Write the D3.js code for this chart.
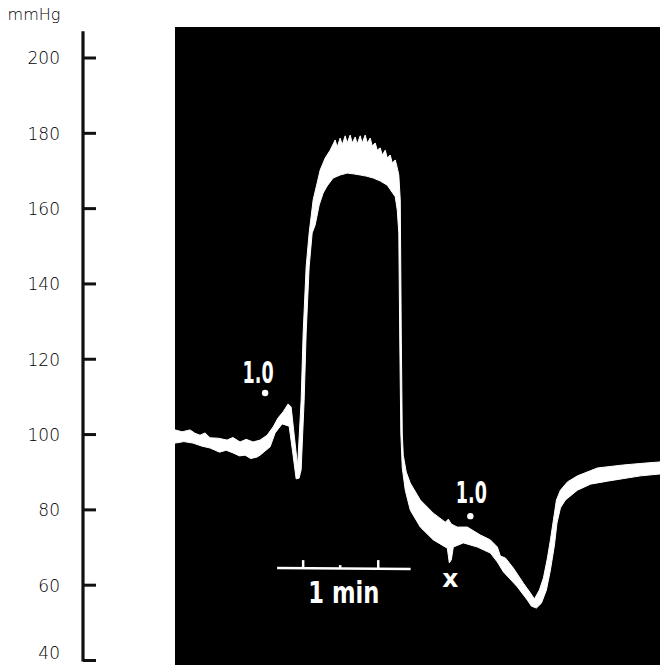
<!DOCTYPE html>
<html>
<head>
<meta charset="utf-8">
<script src="https://cdn.jsdelivr.net/npm/d3@7/dist/d3.min.js"></script>
<style>
  body { margin: 0; background: #fff; }
  svg { display: block; }
</style>
</head>
<body>
<div id="chart"></div>
<script>
// pressure axis (mmHg)
var yTicks = [40, 60, 80, 100, 120, 140, 160, 180, 200];
var yUnit = "mmHg";
var axisTopValue = 207;

// recording: time in s, pressure in mmHg
// upper outline of the white trace, read left to right
var traceUpper = [
  [0, 101.1], [3.2, 100.6], [6.75, 101.1], [9.0, 100.2], [11.25, 99.7], [13.5, 100.3], [15.75, 99.0],
  [19.5, 98.9], [23.4, 98.4], [26.0, 99.1], [29.25, 97.9], [32.0, 98.6],
  [35.1, 97.9], [38.25, 98.4], [41.4, 99.7], [44.1, 101.9], [46.35, 104.3], [48.6, 105.9],
  [50.85, 108.0], [52.2, 107.2], [55.1, 91.5], [56.7, 109.0], [57.6, 126.8], [58.95, 144.4],
  [60.3, 153.4], [62.1, 162.2], [63.9, 166.7], [65.25, 170.1], [67.5, 173.3], [69.75, 175.4],
  [72, 178.1], [72.9, 176.2], [74.25, 178.6], [75.15, 176.8], [76.5, 179.2], [77.4, 177.3],
  [78.75, 179.4], [79.65, 177.3], [81, 178.9], [81.9, 177.0], [83.25, 179.2], [84.15, 177.3],
  [85.5, 179.4], [86.4, 177.3], [87.75, 178.6], [88.65, 176.5], [90, 177.3], [90.9, 175.4],
  [92.25, 176.0], [93.15, 174.1], [94.5, 175.4], [95.4, 173.3], [96.75, 174.1], [97.65, 172.0],
  [99, 172.8], [99.9, 170.7], [100.6, 168.8], [101.25, 162.2], [101.7, 126.8], [102.15, 100.3],
  [102.6, 94.4], [103.95, 89.9], [105.75, 87.0], [110.25, 82.5], [116.1, 79.0], [121.5, 76.6],
  [122.85, 77.4], [124.2, 76.1], [126.9, 75.3], [131.4, 75.3], [137.25, 73.2], [141.75, 71.9],
  [144.9, 70.0], [146.25, 67.6], [148.5, 67.1], [152.1, 64.4], [156.6, 60.4], [159.75, 57.8],
  [161.55, 56.2], [163.8, 58.6], [165.6, 61.8], [167.4, 67.1], [168.75, 71.9], [170.1, 77.2],
  [171.45, 82.5], [173.25, 85.1], [176.4, 87.3], [180.9, 88.9], [189.9, 91.0], [201.6, 91.8],
  [211.5, 92.3], [218, 92.6]
];
// lower outline of the white trace, read left to right
var traceLower = [
  [0, 97.6], [4.0, 98.0], [8.1, 97.6], [12.0, 96.8], [15.75, 96.3], [20.0, 95.2], [23.0, 95.7], [26.1, 95.0],
  [29.0, 94.2], [31.5, 94.4], [34.0, 93.5], [36.9, 93.9],
  [38.25, 94.4], [42.75, 96.6], [45, 100.3], [48.15, 102.7], [51.3, 102.1], [52.9, 95.2],
  [54.45, 88.1], [55.8, 88.3], [56.7, 90.5], [58.05, 109.0], [58.95, 126.8], [60.3, 144.4],
  [61.65, 153.4], [63, 155.5], [64.8, 160.8], [66.6, 164.0], [68.4, 165.9], [71.1, 168.0],
  [74.25, 168.8], [77.4, 169.3], [80.1, 169.1], [83.25, 168.8], [85.95, 168.5], [89.1, 168.0],
  [92.25, 167.2], [95.4, 166.1], [99, 163.0], [99.9, 159.5], [100.6, 153.4], [101, 126.8],
  [101.5, 100.3], [102.15, 91.0], [103.5, 85.1], [105.75, 79.8], [110.25, 75.3], [116.1, 71.9],
  [122.4, 69.7], [123.3, 65.8], [124.2, 66.6], [125.1, 70.0], [129.6, 71.1], [135.9, 70.0],
  [141.75, 68.4], [144.9, 66.0], [147.6, 63.4], [153.9, 59.4], [158.4, 55.9], [160.2, 54.3],
  [162.45, 53.8], [164.7, 55.1], [166.95, 58.6], [168.75, 63.9], [170.55, 70.5], [171.7, 76.4],
  [173.25, 80.4], [175.5, 82.5], [180.9, 85.1], [186.75, 86.7], [194.4, 87.5], [209.25, 88.9],
  [218, 89.4]
];

// marks written on the record
var doseLabels = [
  { text: "1.0", t: 37.35, mmHg: 113.6, dotT: 40.5, dotMmHg: 110.9 },
  { text: "1.0", t: 133.2, mmHg: 81.7, dotT: 132.75, dotMmHg: 78.2 }
];
var crossMark = { text: "x", t: 123.75, mmHg: 59.3 };

// time scale bar
var scaleBarStart = 45.9;
var scaleBarLength = 60;
var scaleBarTicks = [57.6, 74.25, 91.35];
var scaleBarLevel = 64.4;
var scaleBarLabel = "1 min";

var W = 660, H = 665;

var svg = d3.select("#chart").append("svg")
  .attr("width", W).attr("height", H);

var x = d3.scaleLinear().domain([0, 218]).range([175, 660]);
var y = d3.scaleLinear().domain([40, 200]).range([660, 57.5]);

// black recording panel
svg.append("rect")
  .attr("x", x(0)).attr("y", 27)
  .attr("width", x(218) - x(0)).attr("height", H - 27)
  .attr("fill", "#000");

// pressure axis on the left
var axisX = 83;
var yAxis = d3.axisLeft(y)
  .tickValues(yTicks)
  .tickSizeInner(-13)
  .tickSizeOuter(0)
  .tickPadding(23);

var ga = svg.append("g")
  .attr("transform", "translate(" + axisX + ",0)")
  .call(yAxis);
ga.select(".domain").remove();
ga.selectAll(".tick line")
  .attr("stroke", "#111").attr("stroke-width", 3);
ga.selectAll(".tick text")
  .attr("fill", "#000")
  .attr("dy", function(d) { return d === 40 ? "-0.1em" : "0.38em"; })
  .style("font-family", "'DejaVu Sans', sans-serif")
  .style("font-weight", 200)
  .style("font-size", "17px");

ga.append("line")
  .attr("x1", 0).attr("x2", 0)
  .attr("y1", y(axisTopValue)).attr("y2", y(40) + 1.5)
  .attr("stroke", "#111").attr("stroke-width", 3.2);

svg.append("text")
  .attr("x", 34).attr("y", 20)
  .attr("text-anchor", "middle")
  .attr("fill", "#000")
  .style("font-family", "'DejaVu Sans', sans-serif")
  .style("font-weight", 200)
  .style("font-size", "16px")
  .text(yUnit);

// white pressure trace as a filled band
var outline = traceUpper.concat(traceLower.slice().reverse());
var line = d3.line()
  .x(function(d) { return x(d[0]); })
  .y(function(d) { return y(d[1]); });

svg.append("path")
  .datum(outline)
  .attr("d", line(outline) + "Z")
  .attr("fill", "#fff")
  .attr("stroke", "#fff")
  .attr("stroke-width", 1)
  .attr("stroke-linejoin", "round");

// dose labels with their dots
var handFont = "'DejaVu Sans Condensed', 'DejaVu Sans', sans-serif";
svg.selectAll("text.dose").data(doseLabels).enter().append("text")
  .attr("class", "dose")
  .attr("x", function(d) { return x(d.t); })
  .attr("y", function(d) { return y(d.mmHg); })
  .attr("text-anchor", "middle")
  .attr("fill", "#fff")
  .attr("textLength", 31)
  .attr("lengthAdjust", "spacingAndGlyphs")
  .style("font-family", handFont)
  .style("font-weight", "bold")
  .style("font-size", "31px")
  .text(function(d) { return d.text; });

svg.selectAll("circle.dose").data(doseLabels).enter().append("circle")
  .attr("class", "dose")
  .attr("cx", function(d) { return x(d.dotT); })
  .attr("cy", function(d) { return y(d.dotMmHg); })
  .attr("r", 3.2)
  .attr("fill", "#fff");

svg.append("text")
  .attr("x", x(crossMark.t)).attr("y", y(crossMark.mmHg))
  .attr("text-anchor", "middle")
  .attr("fill", "#fff")
  .style("font-family", "'DejaVu Sans', sans-serif")
  .style("font-weight", "bold")
  .style("font-size", "25px")
  .text(crossMark.text);

// 1 min scale bar
var barY = y(scaleBarLevel);
svg.append("line")
  .attr("x1", x(scaleBarStart)).attr("x2", x(scaleBarStart + scaleBarLength))
  .attr("y1", barY).attr("y2", barY + 1)
  .attr("stroke", "#fff").attr("stroke-width", 2.5);

svg.selectAll("line.sbtick").data(scaleBarTicks).enter().append("line")
  .attr("class", "sbtick")
  .attr("x1", function(d) { return x(d); })
  .attr("x2", function(d) { return x(d); })
  .attr("y1", function(d, i) { return barY - (i === 1 ? 3 : 8); })
  .attr("y2", barY)
  .attr("stroke", "#fff").attr("stroke-width", 2.5);

svg.append("text")
  .attr("x", x(scaleBarStart + scaleBarLength / 2))
  .attr("y", barY + 35)
  .attr("text-anchor", "middle")
  .attr("fill", "#fff")
  .attr("textLength", 71)
  .attr("lengthAdjust", "spacingAndGlyphs")
  .style("font-family", handFont)
  .style("font-weight", "bold")
  .style("font-size", "31px")
  .text(scaleBarLabel);
</script>
</body>
</html>
